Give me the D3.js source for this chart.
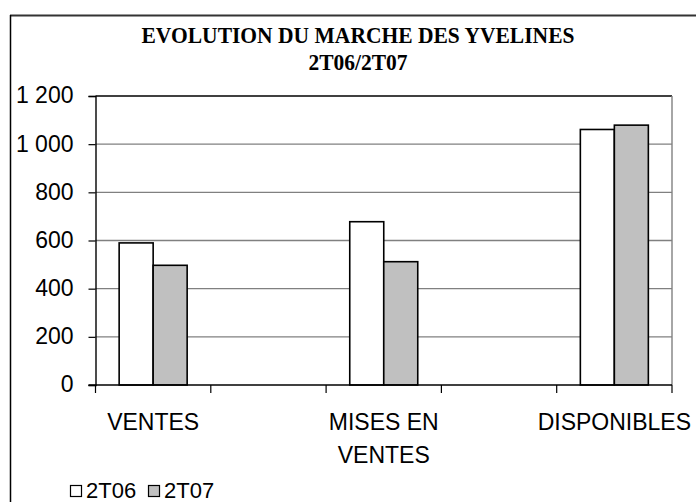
<!DOCTYPE html>
<html>
<head>
<meta charset="utf-8">
<script src="https://cdn.jsdelivr.net/npm/d3@7"></script>
<style>
  html, body { margin: 0; padding: 0; background: #fff; }
  svg { display: block; }
  text { font-family: "Liberation Sans", Arial, sans-serif; fill: #000; }
</style>
</head>
<body>
<svg id="chart" width="696" height="502"></svg>
<script>
// ---- data ----
const titleLines = ["EVOLUTION DU MARCHE DES YVELINES", "2T06/2T07"];
const categories = ["VENTES", "", "MISES EN VENTES", "", "DISPONIBLES"];
const categoryLabelLines = [["VENTES"], [], ["MISES EN", "VENTES"], [], ["DISPONIBLES"]];
const seriesNames = ["2T06", "2T07"];
const values2T06 = [590, null, 678, null, 1061];
const values2T07 = [497, null, 512, null, 1079];
const yTicks = [0, 200, 400, 600, 800, 1000, 1200];
const yTickLabels = ["0", "200", "400", "600", "800", "1 000", "1 200"];
const seriesColors = ["#FFFFFF", "#C0C0C0"];

// ---- layout ----
const svg = d3.select("#chart");
const plot = { left: 95.5, right: 672, top: 96, bottom: 385 };

// outer chart frame (only top and left visible)
svg.append("line").attr("x1", 10).attr("x2", 696).attr("y1", 15.5).attr("y2", 15.5)
  .attr("stroke", "#333").attr("stroke-width", 2);
svg.append("line").attr("x1", 10.5).attr("x2", 10.5).attr("y1", 15).attr("y2", 502)
  .attr("stroke", "#000").attr("stroke-width", 1.5);

// title
const title = svg.append("g");
title.append("text").attr("x", 358).attr("y", 43).attr("text-anchor", "middle")
  .style("font-family", "'Liberation Serif', 'Times New Roman', serif")
  .style("font-weight", "bold").style("font-size", "23px")
  .attr("textLength", 433).attr("lengthAdjust", "spacingAndGlyphs")
  .text(titleLines[0]);
title.append("text").attr("x", 358).attr("y", 70).attr("text-anchor", "middle")
  .style("font-family", "'Liberation Serif', 'Times New Roman', serif")
  .style("font-weight", "bold").style("font-size", "23px")
  .attr("textLength", 99).attr("lengthAdjust", "spacingAndGlyphs")
  .text(titleLines[1]);

// scales
const x = d3.scaleBand().domain(d3.range(categories.length))
  .range([plot.left, plot.right]).paddingInner(0).paddingOuter(0);
const y = d3.scaleLinear().domain([0, 1200]).range([plot.bottom, plot.top]);
const barW = 34;
const xs = d3.scaleBand().domain(seriesNames)
  .range([0, barW * seriesNames.length]).padding(0);

// gridlines
svg.append("g").selectAll("line").data(yTicks.filter(d => d > 0)).join("line")
  .attr("x1", plot.left).attr("x2", plot.right)
  .attr("y1", d => y(d)).attr("y2", d => y(d))
  .attr("stroke", d => d === 1200 ? "#404040" : "#808080")
  .attr("stroke-width", d => d === 1200 ? 2 : 1.4);
// right border of plot area
svg.append("line").attr("x1", plot.right).attr("x2", plot.right)
  .attr("y1", plot.top).attr("y2", plot.bottom)
  .attr("stroke", "#808080").attr("stroke-width", 1.4);

// bars
const series = [values2T06, values2T07];
series.forEach((vals, si) => {
  svg.append("g").selectAll("rect")
    .data(vals.map((v, i) => ({ v, i })).filter(d => d.v != null))
    .join("rect")
    .attr("x", d => x(d.i) + (x.bandwidth() - barW * 2) / 2 + xs(seriesNames[si]))
    .attr("y", d => y(d.v))
    .attr("width", xs.bandwidth())
    .attr("height", d => y(0) - y(d.v))
    .attr("fill", seriesColors[si])
    .attr("stroke", "#000").attr("stroke-width", 1.6);
});

// y axis
const yAxis = d3.axisLeft(y).tickValues(yTicks)
  .tickFormat((d, i) => yTickLabels[i]).tickSize(7).tickPadding(15);
const gy = svg.append("g").attr("transform", `translate(${plot.left},0)`).call(yAxis);
gy.select(".domain").attr("stroke", "#000").attr("stroke-width", 1.4);
gy.selectAll(".tick line").attr("stroke", "#000").attr("stroke-width", 1.2);
gy.selectAll(".tick text").style("font-size", "23px")
  .style("font-family", "'Liberation Sans', Arial, sans-serif").attr("dy", "0.3em");

// x axis (boundary ticks)
const xBoundaries = d3.range(categories.length + 1);
const xb = d3.scaleLinear().domain([0, categories.length]).range([plot.left, plot.right]);
svg.append("line").attr("x1", plot.left - 7).attr("x2", plot.right)
  .attr("y1", plot.bottom).attr("y2", plot.bottom)
  .attr("stroke", "#000").attr("stroke-width", 1.4);
svg.append("g").selectAll("line").data(xBoundaries).join("line")
  .attr("x1", d => xb(d)).attr("x2", d => xb(d))
  .attr("y1", plot.bottom).attr("y2", plot.bottom + 8)
  .attr("stroke", "#000").attr("stroke-width", 1.2);

// category labels
categoryLabelLines.forEach((lines, i) => {
  lines.forEach((ln, li) => {
    svg.append("text")
      .attr("x", x(i) + x.bandwidth() / 2)
      .attr("y", 430 + li * 33)
      .attr("text-anchor", "middle")
      .style("font-size", "23px")
      .text(ln);
  });
});

// legend
const legendX = [70, 148];
seriesNames.forEach((name, i) => {
  svg.append("rect").attr("x", legendX[i] + 0.5).attr("y", 485.5)
    .attr("width", 11).attr("height", 11)
    .attr("fill", seriesColors[i]).attr("stroke", "#000").attr("stroke-width", 1.2);
  svg.append("text").attr("x", legendX[i] + 16).attr("y", 498)
    .style("font-size", "22px").text(name);
});
</script>
</body>
</html>
